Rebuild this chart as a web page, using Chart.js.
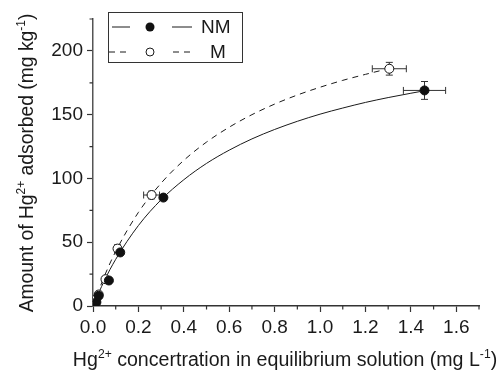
<!DOCTYPE html>
<html>
<head>
<meta charset="utf-8">
<script src="https://cdn.jsdelivr.net/npm/chart.js@4.4.0/dist/chart.umd.min.js"></script>
<style>
  body { margin: 0; background: #fff; }
</style>
</head>
<body>
<canvas id="isoChart" width="500" height="371"></canvas>
<script>
const nmConc = [0.015, 0.025, 0.07, 0.12, 0.31, 1.46];
const nmAds = [3, 8, 20, 42, 85, 169];
const nmConcErr = [0.005, 0.006, 0.01, 0.01, 0.012, 0.093];
const nmAdsErr = [1.5, 1.5, 1.5, 2, 2, 7];

const mConc = [0.012, 0.025, 0.055, 0.108, 0.258, 1.305];
const mAds = [5, 9, 21, 45, 87, 186];
const mConcErr = [0.005, 0.008, 0.012, 0.01, 0.035, 0.075];
const mAdsErr = [1.5, 2, 2, 3, 3, 5];

// fitted curves
const nmFitX = [0, 0.05, 0.1, 0.2, 0.3, 0.4, 0.5, 0.6, 0.7, 0.8, 0.9, 1.0, 1.1, 1.2, 1.3, 1.4, 1.44];
const nmFitY = [0, 19.9, 36.6, 63.1, 83.3, 99.0, 111.8, 122.2, 131.0, 138.4, 144.8, 150.4, 155.2, 159.6, 163.4, 166.8, 168.1];
const mFitX = [0, 0.05, 0.1, 0.2, 0.3, 0.4, 0.5, 0.6, 0.7, 0.8, 0.9, 1.0, 1.1, 1.2, 1.27];
const mFitY = [0, 23.3, 42.8, 73.4, 96.3, 114.2, 128.5, 140.2, 150.0, 158.3, 165.4, 171.5, 176.9, 181.6, 184.7];

// axis ticks
const xMajor = [0, 0.2, 0.4, 0.6, 0.8, 1.0, 1.2, 1.4, 1.6];
const xMinor = [0.1, 0.3, 0.5, 0.7, 0.9, 1.1, 1.3, 1.5, 1.7];
const yMajor = [0, 50, 100, 150, 200];
const yMinor = [25, 75, 125, 175, 225];

const FONT = "'Liberation Sans', Arial, sans-serif";
const INK = '#1a1a1a';

const pts = (xs, ys) => xs.map((x, i) => ({ x: x, y: ys[i] }));

// draw text with superscript pieces
function richText(ctx, parts, x, y, size) {
  const sup = size * 0.62;
  let total = 0;
  parts.forEach(p => {
    ctx.font = (p.sup ? sup : size) + 'px ' + FONT;
    total += ctx.measureText(p.t).width;
  });
  let cx = x - total / 2;
  parts.forEach(p => {
    ctx.font = (p.sup ? sup : size) + 'px ' + FONT;
    ctx.fillText(p.t, cx, p.sup ? y - size * 0.42 : y);
    cx += ctx.measureText(p.t).width;
  });
}

const errorBars = {
  id: 'errorBars',
  beforeDatasetsDraw(chart) {
    const { ctx, scales: { x, y } } = chart;
    ctx.save();
    ctx.strokeStyle = '#333';
    ctx.lineWidth = 1;
    chart.data.datasets.forEach(ds => {
      if (!ds.errX) return;
      ds.data.forEach((p, i) => {
        const px = x.getPixelForValue(p.x), py = y.getPixelForValue(p.y);
        const x0 = x.getPixelForValue(p.x - ds.errX[i]), x1 = x.getPixelForValue(p.x + ds.errX[i]);
        const y0 = y.getPixelForValue(p.y - ds.errY[i]), y1 = y.getPixelForValue(p.y + ds.errY[i]);
        ctx.beginPath();
        ctx.moveTo(x0, py); ctx.lineTo(x1, py);
        ctx.moveTo(x0, py - 3.5); ctx.lineTo(x0, py + 3.5);
        ctx.moveTo(x1, py - 3.5); ctx.lineTo(x1, py + 3.5);
        ctx.moveTo(px, y0); ctx.lineTo(px, y1);
        ctx.moveTo(px - 3.5, y0); ctx.lineTo(px + 3.5, y0);
        ctx.moveTo(px - 3.5, y1); ctx.lineTo(px + 3.5, y1);
        ctx.stroke();
      });
    });
    ctx.restore();
  }
};

const decorations = {
  id: 'decorations',
  afterDraw(chart) {
    const { ctx, scales: { x, y } } = chart;
    ctx.save();
    ctx.strokeStyle = '#333';
    ctx.lineWidth = 1.2;
    // minor ticks
    ctx.beginPath();
    xMinor.forEach(v => {
      const px = x.getPixelForValue(v);
      ctx.moveTo(px, y.bottom); ctx.lineTo(px, y.bottom + 3.5);
    });
    yMinor.forEach(v => {
      const py = y.getPixelForValue(v);
      ctx.moveTo(x.left, py); ctx.lineTo(x.left - 3.5, py);
    });
    ctx.stroke();

    // axis titles
    ctx.fillStyle = INK;
    ctx.textAlign = 'left';
    ctx.textBaseline = 'alphabetic';
    richText(ctx, [
      { t: 'Hg' }, { t: '2+', sup: true },
      { t: ' concertration in equilibrium solution (mg L' }, { t: '-1', sup: true }, { t: ')' }
    ], 285, 366, 19.6);
    ctx.save();
    ctx.translate(33, 163);
    ctx.rotate(-Math.PI / 2);
    richText(ctx, [
      { t: 'Amount of Hg' }, { t: '2+', sup: true },
      { t: ' adsorbed (mg kg' }, { t: '-1', sup: true }, { t: ')' }
    ], 0, 0, 19.3);
    ctx.restore();

    // legend box
    ctx.lineWidth = 1;
    ctx.strokeStyle = '#333';
    ctx.strokeRect(108.5, 12.5, 134, 50);
    ctx.strokeStyle = INK;
    // row 1: solid line, filled dot
    ctx.beginPath();
    ctx.moveTo(112, 27); ctx.lineTo(130, 27);
    ctx.moveTo(172, 27); ctx.lineTo(192, 27);
    ctx.stroke();
    ctx.fillStyle = '#111';
    ctx.beginPath(); ctx.arc(150, 27, 4.5, 0, Math.PI * 2); ctx.fill();
    // row 2: dashed line, open circle
    ctx.beginPath();
    ctx.moveTo(109, 52); ctx.lineTo(115, 52);
    ctx.moveTo(120, 52); ctx.lineTo(126, 52);
    ctx.moveTo(173, 52); ctx.lineTo(179, 52);
    ctx.moveTo(184, 52); ctx.lineTo(190, 52);
    ctx.stroke();
    ctx.beginPath(); ctx.arc(150, 52, 4, 0, Math.PI * 2); ctx.stroke();
    ctx.fillStyle = INK;
    ctx.font = '19px ' + FONT;
    ctx.textBaseline = 'middle';
    ctx.fillText('NM', 201, 28);
    ctx.fillText('M', 210, 53);
    ctx.restore();
  }
};

new Chart(document.getElementById('isoChart'), {
  type: 'scatter',
  data: {
    datasets: [
      {
        label: 'NM',
        data: pts(nmConc, nmAds),
        errX: nmConcErr, errY: nmAdsErr,
        pointRadius: 4.5,
        pointBackgroundColor: '#111',
        pointBorderColor: '#111',
        pointBorderWidth: 1,
        order: 0
      },
      {
        label: 'M',
        data: pts(mConc, mAds),
        errX: mConcErr, errY: mAdsErr,
        pointRadius: 4.5,
        pointBackgroundColor: '#fff',
        pointBorderColor: '#111',
        pointBorderWidth: 1,
        order: 0
      },
      {
        type: 'line',
        label: 'NM fit',
        data: pts(nmFitX, nmFitY),
        borderColor: INK,
        borderWidth: 1,
        pointRadius: 0,
        cubicInterpolationMode: 'monotone',
        order: 1
      },
      {
        type: 'line',
        label: 'M fit',
        data: pts(mFitX, mFitY),
        borderColor: INK,
        borderWidth: 1,
        borderDash: [6, 5],
        pointRadius: 0,
        cubicInterpolationMode: 'monotone',
        order: 1
      }
    ]
  },
  options: {
    responsive: false,
    animation: false,
    layout: { padding: { left: 0, top: 19, right: 21, bottom: 0 } },
    plugins: { legend: { display: false }, tooltip: { enabled: false } },
    scales: {
      x: {
        type: 'linear',
        min: 0, max: 1.7,
        afterFit: s => { s.height = 65; },
        afterBuildTicks: s => { s.ticks = xMajor.map(v => ({ value: v })); },
        ticks: {
          color: INK,
          font: { family: FONT, size: 19 },
          padding: 4,
          maxRotation: 0,
          callback: v => v.toFixed(1)
        },
        grid: { drawOnChartArea: false, tickLength: 6, tickColor: '#333', tickWidth: 1.2 },
        border: { color: '#333', width: 1.5 }
      },
      y: {
        min: 0, max: 225,
        afterFit: s => { s.width = 93; },
        afterBuildTicks: s => { s.ticks = yMajor.map(v => ({ value: v })); },
        ticks: {
          color: INK,
          font: { family: FONT, size: 19 },
          padding: 4,
          callback: v => String(v)
        },
        grid: { drawOnChartArea: false, tickLength: 6, tickColor: '#333', tickWidth: 1.2 },
        border: { color: '#555', width: 1.5 }
      }
    }
  },
  plugins: [errorBars, decorations]
});
</script>
</body>
</html>
